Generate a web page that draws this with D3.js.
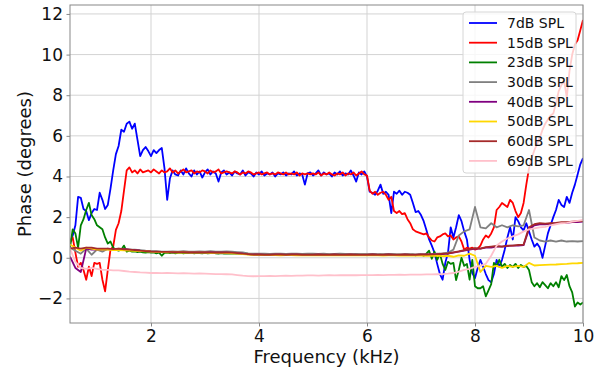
<!DOCTYPE html>
<html>
<head>
<meta charset="utf-8">
<script src="https://cdn.jsdelivr.net/npm/d3@7"></script>
<style>
  html, body { margin: 0; padding: 0; background: #fff; }
  svg { display: block; font-family: "DejaVu Sans", sans-serif; }
</style>
</head>
<body>
<svg id="chart" width="605" height="374"></svg>
<script>
// Frequency grids (kHz): fine 0.05 kHz steps, coarse 0.1 kHz steps
const freqFine = d3.range(191).map(i => +(0.5 + i * 0.05).toFixed(2));
const freqCoarse = d3.range(96).map(i => +(0.5 + i * 0.1).toFixed(1));

const labels = ["7dB SPL", "15dB SPL", "23dB SPL", "30dB SPL", "40dB SPL", "50dB SPL", "60dB SPL", "69dB SPL"];
const colors = ["blue", "red", "green", "gray", "purple", "gold", "brown", "pink"];

const xTicks = [2, 4, 6, 8, 10];
const yTicks = [-2, 0, 2, 4, 6, 8, 10, 12];

// Phase (degrees) per level
const spl7 = [
  0.75, 1.1, 1.6, 3.0, 2.95, 2.4, 2.3, 1.85, 2.2, 2.4,
  2.35, 3.2, 2.85, 2.4, 2.6, 3.4, 4.3, 5.1, 5.5, 6.3, 6.2, 6.6, 6.7, 6.35, 6.6, 5.8, 5.0, 5.3, 5.45, 5.25,
  5.0, 5.3, 5.15, 5.3, 5.4, 4.4, 2.85, 3.9, 4.3, 4.1, 4.05, 4.3, 4.1, 4.4, 4.15, 4.0, 4.3, 4.1, 4.25, 3.95,
  4.2, 4.35, 4.1, 4.25, 4.15, 3.75, 4.2, 4.3, 4.1, 4.2, 4.05, 4.25, 4.15, 4.1, 4.3, 4.05, 4.2, 4.15, 4.0, 4.2,
  4.1, 4.25, 4.05, 4.15, 4.1, 4.2, 4.0, 4.15, 4.1, 4.2, 4.05, 4.15, 4.1, 4.25, 4.05, 4.15, 4.1, 3.6, 4.15, 4.2,
  4.05, 4.15, 4.3, 4.05, 4.2, 4.1, 4.15, 4.0, 4.2, 4.1, 4.25, 4.05, 4.15, 4.1, 4.3, 4.05, 3.75, 4.2, 4.1, 4.25,
  4.0, 3.25, 3.2, 3.1, 3.3, 3.6, 3.15, 3.25, 3.1, 2.2, 3.25, 3.15, 3.3, 3.1, 3.25, 3.2, 3.1, 2.7, 2.25, 2.3,
  2.1, 1.8, 1.37, 0.9, 0.6, 0.25, -0.3, -0.8, -1.08, -0.25, 0.25, 1.5, 1.0, 1.5, 2.1, 1.8, 1.3, 0.9, -0.1, -0.75,
  -1.0, -0.5, -0.1, -0.44, -0.8, -1.1, -1.2, -0.8, -0.1, -0.44, -0.1, 0.4, 1.0, 1.5, 0.9, 2.0, 1.8, 1.5, 1.35, 1.7,
  1.3, 0.9, 0.55, 0.7, 0.5, 0.0, 0.6, 1.2, 1.6, 2.0, 2.35, 2.85, 2.6, 2.5, 3.0, 2.7, 3.2, 3.6, 4.1, 4.6,
  4.9
];
const spl15 = [
  0.75, 1.0, 0.25, -0.44, -0.25, -0.6, -1.08, -0.44, -0.9, -0.25,
  -0.3, -0.25, -1.08, -1.65, -0.6, 0.4, 0.55, 1.37, 1.7, 2.3, 3.3, 4.3, 4.45, 4.2, 4.3, 4.15, 4.35, 4.2, 4.25, 4.3,
  4.2, 4.35, 4.25, 4.15, 4.3, 4.2, 4.25, 4.4, 4.2, 4.3, 4.15, 4.25, 4.35, 4.2, 4.25, 4.3, 4.15, 4.25, 4.2, 4.3,
  4.25, 4.15, 4.3, 4.2, 4.25, 4.35, 4.15, 4.2, 4.25, 4.2, 4.15, 4.25, 4.2, 4.1, 4.2, 4.15, 4.25, 4.2, 4.1, 4.15,
  4.2, 4.1, 4.15, 4.2, 4.1, 4.15, 4.1, 4.2, 4.15, 4.1, 4.2, 4.1, 4.15, 4.1, 4.2, 4.05, 4.15, 4.1, 4.15, 4.1,
  4.15, 4.1, 4.2, 4.05, 4.15, 4.1, 4.2, 4.1, 4.05, 4.15, 4.1, 4.2, 4.05, 4.15, 4.1, 4.2, 4.05, 4.15, 4.25, 4.1,
  4.05, 3.3, 3.15, 3.25, 3.1, 3.2, 3.25, 3.1, 2.85, 3.0, 2.3, 2.2, 2.3, 2.15, 2.2, 1.9, 1.7, 1.4, 1.3, 1.25,
  1.2, 1.15, 1.2, 1.0, 0.85, 0.8, 1.0, 1.05, 1.15, 1.2, 1.05, 1.1, 0.9, 1.0, 1.05, 0.8, 0.4, 0.5, 0.45, 0.5,
  0.4, 0.45, 0.6, 0.9, 1.1, 1.0, 1.2, 1.5, 2.35, 2.5, 2.7, 2.6, 2.5, 2.85, 2.7, 2.3, 2.0, 2.2, 2.7, 3.6,
  4.4, 4.9, 5.3, 5.6, 5.9, 6.3, 6.6, 6.8, 7.0, 7.1, 7.6, 8.2, 8.5, 8.7, 7.9, 9.2, 10.0, 10.5, 10.7, 11.2,
  11.7
];
const spl23 = [
  0.5, 1.4, 1.2, 0.5, 1.6, 1.9, 2.35, 2.7, 2.1, 1.9,
  1.6, 1.5, 1.4, 1.0, 0.7, 0.8, 0.5, 0.4, 0.35, 0.4, 0.6, 0.3, 0.35, 0.3, 0.32, 0.28, 0.3, 0.27, 0.25, 0.28,
  0.25, 0.27, 0.22, 0.25, 0.1, 0.24, 0.25, 0.23, 0.25, 0.22, 0.24, 0.25, 0.22, 0.24, 0.23, 0.25, 0.22, 0.24, 0.23, 0.22,
  0.24, 0.22, 0.23, 0.25, 0.22, 0.2, 0.23, 0.21, 0.22, 0.2, 0.22, 0.21, 0.2, 0.22, 0.18, 0.2, 0.19, 0.17, 0.18, 0.16,
  0.17, 0.15, 0.16, 0.15, 0.17, 0.14, 0.15, 0.16, 0.14, 0.15, 0.16, 0.14, 0.15, 0.16, 0.15, 0.14, 0.16, 0.15, 0.14, 0.15,
  0.15, 0.14, 0.16, 0.15, 0.13, 0.15, 0.16, 0.14, 0.15, 0.14, 0.16, 0.15, 0.14, 0.15, 0.16, 0.14, 0.15, 0.14, 0.16, 0.15,
  0.15, 0.14, 0.16, 0.15, 0.14, 0.15, 0.13, 0.15, 0.14, 0.16, 0.15, 0.14, 0.15, 0.13, 0.15, 0.16, 0.14, 0.15, 0.12, 0.15,
  0.15, 0.1, 0.2, 0.35, -0.05, 0.3, -0.1, 0.2, -0.3, -0.6, -0.2, -0.3, -0.25, -1.1, -0.6, 0.0, -0.4, -0.3, -1.08, -0.1,
  -1.4, -1.5, -1.5, -1.4, -1.9, -1.6, -1.3, -0.25, -0.4, -0.1, -0.45, -0.3, -0.5, -0.35, -0.45, -0.3, -0.5, -0.35, -0.45, -0.4,
  -0.6, -1.2, -1.4, -1.25, -1.45, -1.2, -1.35, -1.5, -1.25, -1.4, -1.2, -1.45, -0.9, -1.1, -0.85, -1.4, -1.7, -2.4, -2.2, -2.3,
  -2.2
];
const spl30 = [
  0.5, 0.35, 0.2, 0.45, 0.15,
  0.4, 0.3, 0.45, 0.4, 0.45, 0.42, 0.4, 0.4, 0.38, 0.35,
  0.33, 0.32, 0.3, 0.3, 0.31, 0.3, 0.32, 0.3, 0.3, 0.31,
  0.3, 0.32, 0.3, 0.3, 0.31, 0.3, 0.28, 0.26, 0.22, 0.2,
  0.2, 0.2, 0.19, 0.2, 0.2, 0.19, 0.2, 0.2, 0.19, 0.2,
  0.2, 0.19, 0.2, 0.18, 0.19, 0.2, 0.19, 0.18, 0.19, 0.18,
  0.18, 0.19, 0.18, 0.18, 0.19, 0.18, 0.17, 0.18, 0.18, 0.17,
  0.18, 0.17, 0.18, 0.2, 0.22, 0.25, 0.4, 1.1, 1.3, 1.4,
  2.5, 1.5, 1.45, 1.7, 1.5, 1.6, 1.5, 1.6, 1.55, 1.6,
  2.35, 1.0, 0.85, 0.8, 0.85, 0.8, 0.85, 0.8, 0.82, 0.8,
  0.82
];
const spl40 = [
  0.05, -0.5, -0.7, 0.45, 0.4,
  0.42, 0.4, 0.43, 0.42, 0.43, 0.42, 0.4, 0.38, 0.35, 0.33,
  0.3, 0.29, 0.28, 0.28, 0.27, 0.27, 0.27, 0.26, 0.26, 0.26,
  0.26, 0.26, 0.25, 0.25, 0.25, 0.24, 0.22, 0.2, 0.17, 0.15,
  0.15, 0.14, 0.14, 0.15, 0.15, 0.14, 0.15, 0.15, 0.14, 0.14,
  0.14, 0.15, 0.14, 0.14, 0.15, 0.14, 0.14, 0.15, 0.14, 0.14,
  0.14, 0.15, 0.14, 0.14, 0.15, 0.14, 0.14, 0.15, 0.14, 0.14,
  0.15, 0.15, 0.16, 0.17, 0.18, 0.2, 0.25, 0.3, 0.35, 0.4,
  0.45, 0.45, 0.5, 0.5, 0.55, 0.55, 0.58, 0.6, 0.6, 0.62,
  1.4, 1.6, 1.65, 1.65, 1.68, 1.7, 1.72, 1.72, 1.75, 1.76,
  1.78
];
const spl50 = [
  0.65, 0.5, 0.35, 0.5, 0.45,
  0.4, 0.42, 0.4, 0.38, 0.38, 0.36, 0.35, 0.34, 0.33, 0.32,
  0.3, 0.29, 0.28, 0.27, 0.27, 0.26, 0.26, 0.25, 0.25, 0.25,
  0.25, 0.24, 0.24, 0.24, 0.23, 0.22, 0.2, 0.18, 0.16, 0.14,
  0.14, 0.13, 0.13, 0.13, 0.12, 0.13, 0.13, 0.12, 0.12, 0.13,
  0.12, 0.13, 0.12, 0.12, 0.12, 0.12, 0.13, 0.12, 0.12, 0.12,
  0.12, 0.12, 0.12, 0.11, 0.12, 0.12, 0.11, 0.12, 0.11, 0.11,
  0.11, 0.1, 0.1, 0.1, 0.08, 0.1, 0.05, 0.12, 0.1, 0.2,
  0.1, -0.7, -0.4, -0.45, -0.4, -0.5, -0.4, -0.45, -0.4, -0.45,
  -0.25, -0.38, -0.36, -0.35, -0.34, -0.33, -0.31, -0.3, -0.28, -0.27,
  -0.25
];
const spl60 = [
  0.45, 0.5, 0.45, 0.5, 0.5,
  0.45, 0.45, 0.45, 0.43, 0.45, 0.42, 0.4, 0.38, 0.35, 0.33,
  0.31, 0.3, 0.29, 0.29, 0.28, 0.28, 0.28, 0.27, 0.27, 0.27,
  0.27, 0.27, 0.26, 0.26, 0.26, 0.25, 0.23, 0.2, 0.18, 0.16,
  0.16, 0.15, 0.15, 0.16, 0.16, 0.15, 0.16, 0.16, 0.15, 0.15,
  0.15, 0.16, 0.15, 0.15, 0.16, 0.15, 0.15, 0.16, 0.15, 0.15,
  0.15, 0.16, 0.15, 0.15, 0.16, 0.15, 0.15, 0.16, 0.15, 0.15,
  0.16, 0.16, 0.17, 0.18, 0.2, 0.22, 0.27, 0.32, 0.38, 0.42,
  0.48, 0.45, 0.52, 0.55, 0.58, 0.55, 0.6, 0.6, 0.63, 0.65,
  1.5, 1.65, 1.7, 1.68, 1.7, 1.72, 1.75, 1.75, 1.78, 1.8,
  1.8
];
const spl69 = [
  0.45, -0.2, -0.5, -0.55, -0.5,
  -0.55, -0.6, -0.6, -0.62, -0.62, -0.65, -0.68, -0.7, -0.72, -0.73,
  -0.75, -0.75, -0.76, -0.75, -0.76, -0.77, -0.76, -0.77, -0.78, -0.77,
  -0.78, -0.79, -0.8, -0.8, -0.81, -0.82, -0.85, -0.88, -0.9, -0.91,
  -0.9, -0.9, -0.89, -0.9, -0.89, -0.88, -0.89, -0.88, -0.88, -0.87,
  -0.87, -0.88, -0.87, -0.86, -0.87, -0.86, -0.86, -0.85, -0.86, -0.85,
  -0.85, -0.85, -0.84, -0.85, -0.84, -0.84, -0.83, -0.84, -0.83, -0.83,
  -0.83, -0.82, -0.82, -0.81, -0.8, -0.78, -0.75, -0.68, -0.6, -0.55,
  -0.45, -0.4, -0.3, 0.1, 0.6, 0.8, 0.95, 1.05, 1.15, 1.3,
  1.4, 1.45, 1.5, 1.52, 1.6, 1.65, 1.7, 1.72, 1.78, 1.82,
  1.86
];

const seriesValues = [spl7, spl15, spl23, spl30, spl40, spl50, spl60, spl69];
const seriesFreqs = [freqFine, freqFine, freqFine, freqCoarse, freqCoarse, freqCoarse, freqCoarse, freqCoarse];

const series = seriesValues.map((vals, i) => ({
  label: labels[i],
  color: colors[i],
  points: vals.map((v, j) => [seriesFreqs[i][j], v])
}));

// Layout
const margin = { left: 70, right: 22, top: 5, bottom: 51 };
const W = 605, H = 374;
const plotW = W - margin.left - margin.right;
const plotH = H - margin.top - margin.bottom;

const x = d3.scaleLinear().domain([0.5, 10]).range([0, plotW]);
const y = d3.scaleLinear().domain([-3.21, 12.44]).range([plotH, 0]);

const svg = d3.select("#chart");
const g = svg.append("g").attr("transform", `translate(${margin.left},${margin.top})`);

// Grid
g.append("g").selectAll("line").data(xTicks).join("line")
  .attr("x1", d => x(d)).attr("x2", d => x(d))
  .attr("y1", 0).attr("y2", plotH)
  .attr("stroke", "#d3d3d3").attr("stroke-width", 1);
g.append("g").selectAll("line").data(yTicks).join("line")
  .attr("y1", d => y(d)).attr("y2", d => y(d))
  .attr("x1", 0).attr("x2", plotW)
  .attr("stroke", "#d3d3d3").attr("stroke-width", 1);

// Lines
svg.append("defs").append("clipPath").attr("id", "plotClip")
  .append("rect").attr("width", plotW).attr("height", plotH);

const line = d3.line().x(d => x(d[0])).y(d => y(d[1]));
g.append("g").attr("clip-path", "url(#plotClip)")
  .selectAll("path").data(series).join("path")
  .attr("d", d => line(d.points))
  .attr("fill", "none")
  .attr("stroke", d => d.color)
  .attr("stroke-width", 1.8)
  .attr("stroke-linejoin", "round");

// Axes
const xAxis = d3.axisBottom(x).tickValues(xTicks).tickFormat(d3.format("d")).tickSize(3.5).tickPadding(3.5);
const yAxis = d3.axisLeft(y).tickValues(yTicks).tickFormat(d3.format("d")).tickSize(3.5).tickPadding(3.5);

const gx = g.append("g").attr("transform", `translate(0,${plotH})`).call(xAxis);
const gy = g.append("g").call(yAxis);
[gx, gy].forEach(a => {
  a.select(".domain").remove();
  a.selectAll(".tick line").attr("stroke", "#888");
  a.selectAll(".tick text").attr("fill", "#111").style("font-size", "17px").style("font-family", "DejaVu Sans");
});

// Frame
g.append("rect").attr("width", plotW).attr("height", plotH)
  .attr("fill", "none").attr("stroke", "#888").attr("stroke-width", 1);

// Axis titles
svg.append("text")
  .attr("x", margin.left + plotW / 2).attr("y", 363)
  .attr("text-anchor", "middle").attr("fill", "#111")
  .style("font-size", "18px")
  .text("Frequency (kHz)");
svg.append("text")
  .attr("transform", `translate(31,${margin.top + plotH / 2}) rotate(-90)`)
  .attr("text-anchor", "middle").attr("fill", "#111")
  .style("font-size", "18px")
  .text("Phase (degrees)");

// Legend
const lg = svg.append("g").attr("transform", "translate(463,12)");
lg.append("rect").attr("width", 113).attr("height", 161).attr("rx", 3)
  .attr("fill", "white").attr("fill-opacity", 0.8)
  .attr("stroke", "#d6d6d6").attr("stroke-width", 1);
const rows = lg.selectAll("g.row").data(series).join("g")
  .attr("class", "row")
  .attr("transform", (d, i) => `translate(0,${11 + i * 19.7})`);
rows.append("line").attr("x1", 6).attr("x2", 34)
  .attr("stroke", d => d.color).attr("stroke-width", 1.8);
rows.append("text").attr("x", 44).attr("dy", "0.35em")
  .attr("fill", "#111").style("font-size", "14px")
  .text(d => d.label);
</script>
</body>
</html>
